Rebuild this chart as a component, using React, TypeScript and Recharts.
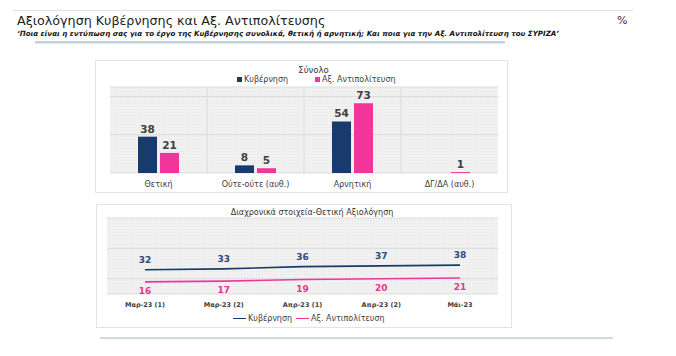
import { BarChart, Bar, XAxis, YAxis, CartesianGrid, LabelList, LineChart, Line } from "recharts";

const barCategories = ["Θετική", "Ούτε-ούτε (αυθ.)", "Αρνητική", "ΔΓ/ΔΑ (αυθ.)"];
const govTotals = [38, 8, 54, null];
const oppTotals = [21, 5, 73, 1];

const periods = ["Μαρ-23 (1)", "Μαρ-23 (2)", "Απρ-23 (1)", "Απρ-23 (2)", "Μάι-23"];
const govPositive = [32, 33, 36, 37, 38];
const oppPositive = [16, 17, 19, 20, 21];

const GOV = "#173b6c";
const OPP = "#f2359a";
const FONT = "'DejaVu Sans', Verdana, sans-serif";

const barData = barCategories.map((name, i) => ({ name, gov: govTotals[i], opp: oppTotals[i] }));
const lineData = periods.map((name, i) => ({ name, gov: govPositive[i], opp: oppPositive[i] }));

const Hatch = ({ id }: { id: string }) => (
  <defs>
    <pattern id={id} width="3" height="3" patternUnits="userSpaceOnUse">
      <rect width="3" height="3" fill="#f1f1f1" />
      <rect width="1" height="1" fill="#e6e6e6" />
    </pattern>
  </defs>
);

export default function App() {
  return (
    <div style={{ position: "absolute", left: 0, top: 0, width: 676, height: 356, background: "#fff", fontFamily: FONT }}>
      <div style={{ position: "absolute", left: 13, top: 10, width: 620, borderTop: "1px solid #e2e2e2" }} />
      <div style={{ position: "absolute", left: 17, top: 13, fontSize: 12.7, color: "#222", whiteSpace: "nowrap" }}>
        Αξιολόγηση Κυβέρνησης και Αξ. Αντιπολίτευσης
      </div>
      <div style={{ position: "absolute", left: 617, top: 14, fontSize: 11, color: "#333" }}>%</div>
      <div style={{ position: "absolute", left: 17, top: 29, fontSize: 7.1, fontWeight: "bold", fontStyle: "italic", color: "#111", whiteSpace: "nowrap" }}>
        ‘Ποια είναι η εντύπωση σας για το έργο της Κυβέρνησης συνολικά, θετική ή αρνητική; Και ποια για την Αξ. Αντιπολίτευση του ΣΥΡΙΖΑ’
      </div>
      <div style={{ position: "absolute", left: 35, top: 41, width: 470, height: 2, background: "#c3d2da", boxShadow: "0 1px 1px #dde6ea" }} />

      {/* top panel */}
      <div style={{ position: "absolute", left: 95, top: 60, width: 411, height: 131, border: "1px solid #e4e4e4" }}>
        <BarChart width={411} height={131} data={barData} margin={{ top: 26, right: 9, bottom: 1, left: 14 }} barSize={19} barGap={3}>
          <Hatch id="hatchA" />
          <CartesianGrid
            fill="url(#hatchA)"
            stroke="#dcdcdc"
            verticalCoordinatesGenerator={({ offset }: any) => [1, 2, 3].map((i) => offset.left + (offset.width * i) / 4)}
          />
          <XAxis dataKey="name" height={18} axisLine={false} tickLine={false} interval={0}
            tick={{ fontSize: 8, fill: "#404040", fontFamily: FONT }} />
          <YAxis hide domain={[0, 90]} ticks={[0, 20, 40, 60, 80]} />
          <Bar dataKey="gov" fill={GOV} isAnimationActive={false}>
            <LabelList dataKey="gov" position="top" offset={4} style={{ fontSize: 10.5, fontWeight: "bold", fill: "#404040", fontFamily: FONT }} />
          </Bar>
          <Bar dataKey="opp" fill={OPP} isAnimationActive={false}>
            <LabelList dataKey="opp" position="top" offset={4} style={{ fontSize: 10.5, fontWeight: "bold", fill: "#404040", fontFamily: FONT }} />
          </Bar>
        </BarChart>
        <div style={{ position: "absolute", left: 0, width: 411, top: 4, textAlign: "center", fontSize: 8.5, color: "#333", paddingLeft: 12 }}>Σύνολο</div>
        <div style={{ position: "absolute", left: 141, top: 14, fontSize: 8, color: "#404040", display: "flex", gap: 27, whiteSpace: "nowrap" }}>
          <span><span style={{ display: "inline-block", width: 5, height: 5, background: GOV, marginRight: 2 }} />Κυβέρνηση</span>
          <span><span style={{ display: "inline-block", width: 5, height: 5, background: OPP, marginRight: 2 }} />Αξ. Αντιπολίτευση</span>
        </div>
      </div>

      {/* bottom panel */}
      <div style={{ position: "absolute", left: 96, top: 204, width: 414, height: 122, border: "1px solid #e4e4e4" }}>
        <LineChart width={414} height={122} data={lineData} margin={{ top: 13, right: 13, bottom: 17, left: 10 }}>
          <Hatch id="hatchB" />
          <CartesianGrid fill="url(#hatchB)" stroke="#dcdcdc" vertical={false} />
          <XAxis dataKey="name" height={16} axisLine={false} tickLine={false} interval={0} padding={{ left: 38, right: 38 }}
            tick={{ fontSize: 6.5, fontWeight: "bold", fill: "#404040", fontFamily: FONT }} />
          <YAxis hide domain={[0, 100]} ticks={[0, 20, 40, 60, 80, 100]} />
          <Line dataKey="gov" stroke={GOV} strokeWidth={1.6} dot={false} isAnimationActive={false}>
            <LabelList dataKey="gov" position="top" offset={7} style={{ fontSize: 9, fontWeight: "bold", fill: "#2b4a78", fontFamily: FONT }} />
          </Line>
          <Line dataKey="opp" stroke={OPP} strokeWidth={1.6} dot={false} isAnimationActive={false}>
            <LabelList dataKey="opp" position="bottom" offset={6} style={{ fontSize: 9, fontWeight: "bold", fill: "#e8358f", fontFamily: FONT }} />
          </Line>
        </LineChart>
        <div style={{ position: "absolute", left: 0, width: 414, top: 3, textAlign: "center", fontSize: 8, color: "#333", paddingLeft: 8 }}>
          Διαχρονικά στοιχεία-Θετική Αξιολόγηση
        </div>
        <div style={{ position: "absolute", left: 136, top: 109, fontSize: 8, color: "#404040", display: "flex", gap: 2, whiteSpace: "nowrap", alignItems: "center" }}>
          <span style={{ display: "inline-block", width: 13, height: 1.5, background: GOV }} />
          <span>Κυβέρνηση</span>
          <span style={{ display: "inline-block", width: 13, height: 1.5, background: OPP, marginLeft: 2 }} />
          <span>Αξ. Αντιπολίτευση</span>
        </div>
      </div>

      <div style={{ position: "absolute", left: 100, top: 337, width: 513, height: 2, background: "#cfdcdf" }} />
    </div>
  );
}
